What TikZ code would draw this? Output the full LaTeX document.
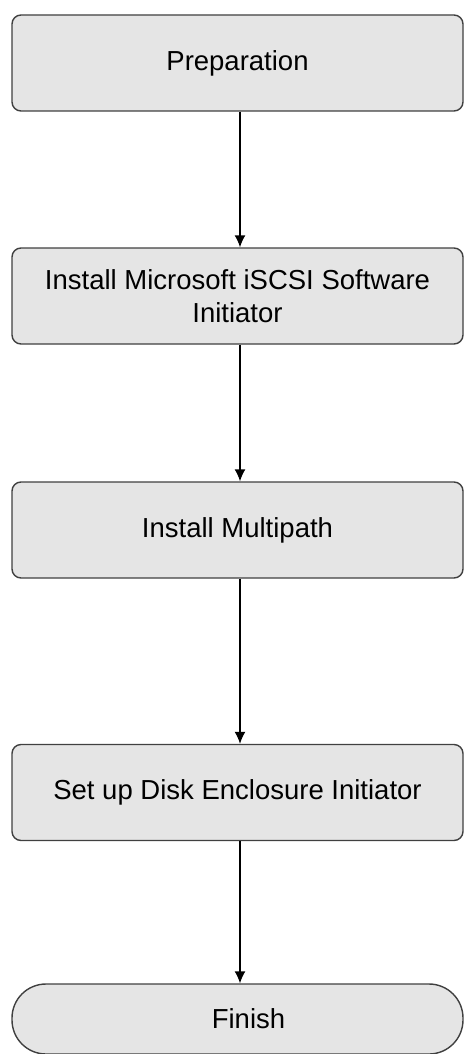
\documentclass[tikz,border=0pt]{standalone}
\usepackage{fontspec}
\setmainfont{Liberation Sans}
\usetikzlibrary{arrows.meta}
\begin{document}
\begin{tikzpicture}[x=1pt,y=-1pt,
  stepbox/.style={draw=black!75, line width=1.4pt, fill=black!10,
    rounded corners=9pt, minimum width=451pt, minimum height=96pt,
    align=center, font=\fontsize{27.5}{33}\selectfont, inner sep=0pt},
  endbox/.style={draw=black!75, line width=1.4pt, fill=black!10,
    rounded corners=34pt, minimum width=451pt, minimum height=70pt,
    font=\fontsize{27.5}{33}\selectfont, inner sep=0pt},
  flow/.style={line width=1.4pt, -{Latex[length=12pt,width=11pt]}}]
\useasboundingbox (0,0) rectangle (464,1054);
\node[stepbox] (prep) at (237.5,63) {Preparation};
\node[stepbox] (iscsi) at (237.5,296) {Install Microsoft iSCSI Software\\Initiator};
\node[stepbox] (mpath) at (237.5,530) {Install Multipath};
\node[stepbox] (disk) at (237.5,792.5) {Set up Disk Enclosure Initiator};
\node[endbox] (fin) at (237.5,1019) {\hspace*{22pt}Finish};
\draw[flow] (prep.south -| 240,0) -- (iscsi.north -| 240,0);
\draw[flow] (iscsi.south -| 240,0) -- (mpath.north -| 240,0);
\draw[flow] (mpath.south -| 240,0) -- (disk.north -| 240,0);
\draw[flow] (disk.south -| 240,0) -- (fin.north -| 240,0);
\end{tikzpicture}
\end{document}
